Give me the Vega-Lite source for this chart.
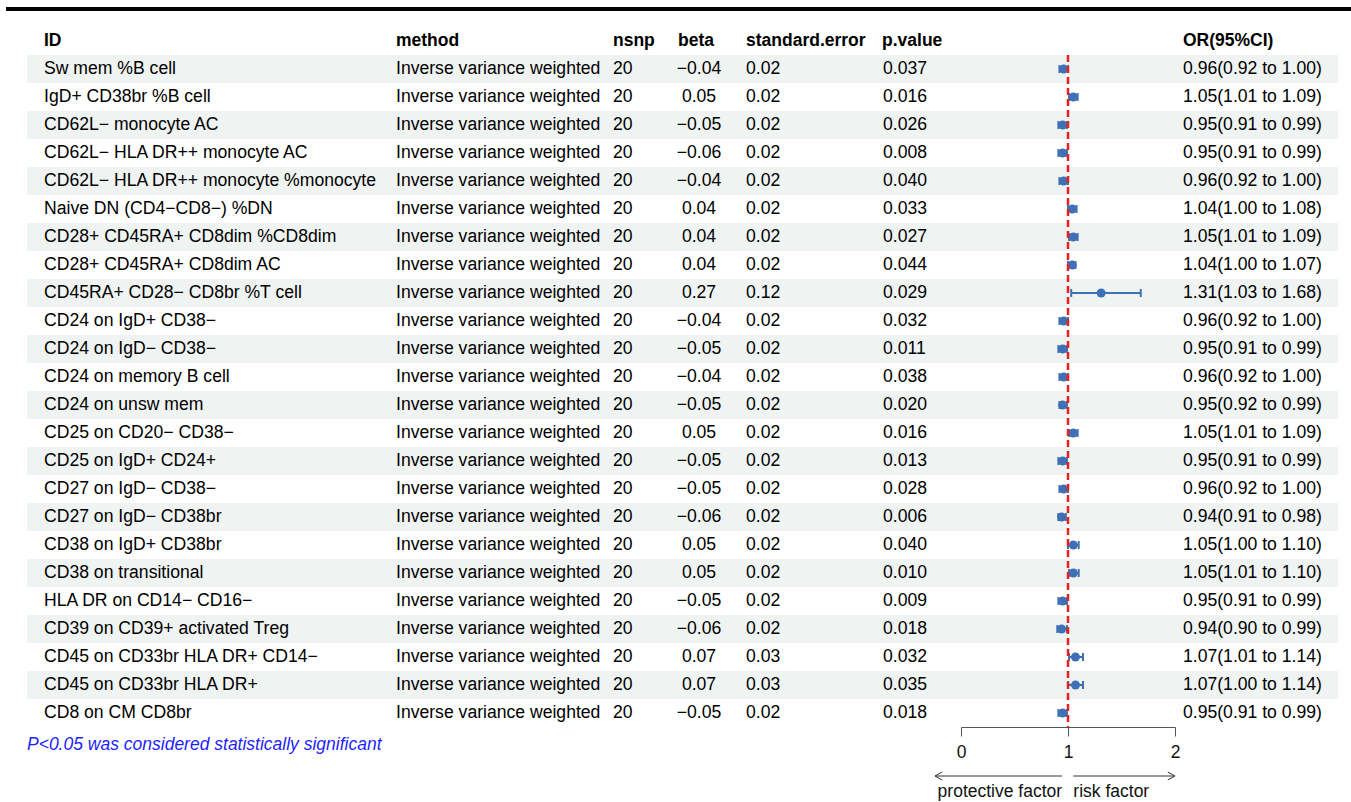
{
  "$schema": "https://vega.github.io/schema/vega-lite/v6.json",
  "background": "white",
  "padding": {"left": 6, "top": 7, "right": 0, "bottom": 0},
  "config": {
    "view": {"stroke": null},
    "font": "Liberation Sans",
    "axisX": {"grid": false, "tickCount": 2, "format": "d", "domainColor": "#555555", "tickColor": "#555555", "tickSize": 9, "labelPadding": 7, "labelFontSize": 17.5, "labelFont": "Liberation Sans", "labelColor": "#111111", "domainWidth": 1, "tickWidth": 1, "labelFlush": false, "labelOverlap": false, "labelBound": false}
  },
  "datasets": {
    "rows": [
      {"i": 1, "ID": "Sw mem %B cell", "method": "Inverse variance weighted", "nsnp": 20, "beta": -0.04, "se": 0.02, "p": 0.037, "or": 0.96, "lo": 0.92, "hi": 1.00, "ci": "0.96(0.92 to 1.00)"},
      {"i": 2, "ID": "IgD+ CD38br %B cell", "method": "Inverse variance weighted", "nsnp": 20, "beta": 0.05, "se": 0.02, "p": 0.016, "or": 1.05, "lo": 1.01, "hi": 1.09, "ci": "1.05(1.01 to 1.09)"},
      {"i": 3, "ID": "CD62L− monocyte AC", "method": "Inverse variance weighted", "nsnp": 20, "beta": -0.05, "se": 0.02, "p": 0.026, "or": 0.95, "lo": 0.91, "hi": 0.99, "ci": "0.95(0.91 to 0.99)"},
      {"i": 4, "ID": "CD62L− HLA DR++ monocyte AC", "method": "Inverse variance weighted", "nsnp": 20, "beta": -0.06, "se": 0.02, "p": 0.008, "or": 0.95, "lo": 0.91, "hi": 0.99, "ci": "0.95(0.91 to 0.99)"},
      {"i": 5, "ID": "CD62L− HLA DR++ monocyte %monocyte", "method": "Inverse variance weighted", "nsnp": 20, "beta": -0.04, "se": 0.02, "p": 0.040, "or": 0.96, "lo": 0.92, "hi": 1.00, "ci": "0.96(0.92 to 1.00)"},
      {"i": 6, "ID": "Naive DN (CD4−CD8−) %DN", "method": "Inverse variance weighted", "nsnp": 20, "beta": 0.04, "se": 0.02, "p": 0.033, "or": 1.04, "lo": 1.00, "hi": 1.08, "ci": "1.04(1.00 to 1.08)"},
      {"i": 7, "ID": "CD28+ CD45RA+ CD8dim %CD8dim", "method": "Inverse variance weighted", "nsnp": 20, "beta": 0.04, "se": 0.02, "p": 0.027, "or": 1.05, "lo": 1.01, "hi": 1.09, "ci": "1.05(1.01 to 1.09)"},
      {"i": 8, "ID": "CD28+ CD45RA+ CD8dim AC", "method": "Inverse variance weighted", "nsnp": 20, "beta": 0.04, "se": 0.02, "p": 0.044, "or": 1.04, "lo": 1.00, "hi": 1.07, "ci": "1.04(1.00 to 1.07)"},
      {"i": 9, "ID": "CD45RA+ CD28− CD8br %T cell", "method": "Inverse variance weighted", "nsnp": 20, "beta": 0.27, "se": 0.12, "p": 0.029, "or": 1.31, "lo": 1.03, "hi": 1.68, "ci": "1.31(1.03 to 1.68)"},
      {"i": 10, "ID": "CD24 on IgD+ CD38−", "method": "Inverse variance weighted", "nsnp": 20, "beta": -0.04, "se": 0.02, "p": 0.032, "or": 0.96, "lo": 0.92, "hi": 1.00, "ci": "0.96(0.92 to 1.00)"},
      {"i": 11, "ID": "CD24 on IgD− CD38−", "method": "Inverse variance weighted", "nsnp": 20, "beta": -0.05, "se": 0.02, "p": 0.011, "or": 0.95, "lo": 0.91, "hi": 0.99, "ci": "0.95(0.91 to 0.99)"},
      {"i": 12, "ID": "CD24 on memory B cell", "method": "Inverse variance weighted", "nsnp": 20, "beta": -0.04, "se": 0.02, "p": 0.038, "or": 0.96, "lo": 0.92, "hi": 1.00, "ci": "0.96(0.92 to 1.00)"},
      {"i": 13, "ID": "CD24 on unsw mem", "method": "Inverse variance weighted", "nsnp": 20, "beta": -0.05, "se": 0.02, "p": 0.020, "or": 0.95, "lo": 0.92, "hi": 0.99, "ci": "0.95(0.92 to 0.99)"},
      {"i": 14, "ID": "CD25 on CD20− CD38−", "method": "Inverse variance weighted", "nsnp": 20, "beta": 0.05, "se": 0.02, "p": 0.016, "or": 1.05, "lo": 1.01, "hi": 1.09, "ci": "1.05(1.01 to 1.09)"},
      {"i": 15, "ID": "CD25 on IgD+ CD24+", "method": "Inverse variance weighted", "nsnp": 20, "beta": -0.05, "se": 0.02, "p": 0.013, "or": 0.95, "lo": 0.91, "hi": 0.99, "ci": "0.95(0.91 to 0.99)"},
      {"i": 16, "ID": "CD27 on IgD− CD38−", "method": "Inverse variance weighted", "nsnp": 20, "beta": -0.05, "se": 0.02, "p": 0.028, "or": 0.96, "lo": 0.92, "hi": 1.00, "ci": "0.96(0.92 to 1.00)"},
      {"i": 17, "ID": "CD27 on IgD− CD38br", "method": "Inverse variance weighted", "nsnp": 20, "beta": -0.06, "se": 0.02, "p": 0.006, "or": 0.94, "lo": 0.91, "hi": 0.98, "ci": "0.94(0.91 to 0.98)"},
      {"i": 18, "ID": "CD38 on IgD+ CD38br", "method": "Inverse variance weighted", "nsnp": 20, "beta": 0.05, "se": 0.02, "p": 0.040, "or": 1.05, "lo": 1.00, "hi": 1.10, "ci": "1.05(1.00 to 1.10)"},
      {"i": 19, "ID": "CD38 on transitional", "method": "Inverse variance weighted", "nsnp": 20, "beta": 0.05, "se": 0.02, "p": 0.010, "or": 1.05, "lo": 1.01, "hi": 1.10, "ci": "1.05(1.01 to 1.10)"},
      {"i": 20, "ID": "HLA DR on CD14− CD16−", "method": "Inverse variance weighted", "nsnp": 20, "beta": -0.05, "se": 0.02, "p": 0.009, "or": 0.95, "lo": 0.91, "hi": 0.99, "ci": "0.95(0.91 to 0.99)"},
      {"i": 21, "ID": "CD39 on CD39+ activated Treg", "method": "Inverse variance weighted", "nsnp": 20, "beta": -0.06, "se": 0.02, "p": 0.018, "or": 0.94, "lo": 0.90, "hi": 0.99, "ci": "0.94(0.90 to 0.99)"},
      {"i": 22, "ID": "CD45 on CD33br HLA DR+ CD14−", "method": "Inverse variance weighted", "nsnp": 20, "beta": 0.07, "se": 0.03, "p": 0.032, "or": 1.07, "lo": 1.01, "hi": 1.14, "ci": "1.07(1.01 to 1.14)"},
      {"i": 23, "ID": "CD45 on CD33br HLA DR+", "method": "Inverse variance weighted", "nsnp": 20, "beta": 0.07, "se": 0.03, "p": 0.035, "or": 1.07, "lo": 1.00, "hi": 1.14, "ci": "1.07(1.00 to 1.14)"},
      {"i": 24, "ID": "CD8 on CM CD8br", "method": "Inverse variance weighted", "nsnp": 20, "beta": -0.05, "se": 0.02, "p": 0.018, "or": 0.95, "lo": 0.91, "hi": 0.99, "ci": "0.95(0.91 to 0.99)"}
    ]
  },
  "spacing": 16,
  "vconcat": [
    {
      "width": 1345, "height": 4,
      "data": {"values": [{}]},
      "mark": {"type": "rect", "color": "#000000"},
      "encoding": {}
    },
    {
      "spacing": 8,
      "vconcat": [
        {
          "bounds": "flush",
          "spacing": 0,
          "hconcat": [
            {
              "width": 21, "height": 700,
              "data": {"values": []},
              "mark": "text",
              "encoding": {}
            },
            {
              "width": 369, "height": 700,
              "data": {"name": "rows"},
              "title": {"text": "P<0.05 was considered statistically significant", "orient": "bottom", "anchor": "start", "offset": 9, "color": "#1f1fff", "fontStyle": "italic", "fontWeight": "normal", "fontSize": 17.5, "font": "Liberation Sans"},
              "layer": [
                {"transform": [{"filter": "datum.i % 2 == 1"}], "mark": {"type": "rect", "color": "#eff3f2"},
                 "encoding": {"y": {"field": "i", "type": "ordinal", "scale": {"type": "band", "domain": [0,1,2,3,4,5,6,7,8,9,10,11,12,13,14,15,16,17,18,19,20,21,22,23,24], "paddingInner": 0, "paddingOuter": 0}, "axis": null}}},
                {"mark": {"type": "text", "align": "left", "baseline": "middle", "fontSize": 17.6, "color": "#000000", "dx": 17},
                 "encoding": {"x": {"value": 0}, "y": {"field": "i", "type": "ordinal", "scale": {"type": "band", "domain": [0,1,2,3,4,5,6,7,8,9,10,11,12,13,14,15,16,17,18,19,20,21,22,23,24], "paddingInner": 0, "paddingOuter": 0}, "axis": null}, "text": {"field": "ID"}}},
                {"data": {"values": [{}]}, "mark": {"type": "text", "align": "left", "baseline": "middle", "fontSize": 17.5, "fontWeight": "bold", "color": "#000000", "dx": 17},
                 "encoding": {"x": {"value": 0}, "y": {"datum": 0, "type": "ordinal", "scale": {"type": "band", "domain": [0,1,2,3,4,5,6,7,8,9,10,11,12,13,14,15,16,17,18,19,20,21,22,23,24], "paddingInner": 0, "paddingOuter": 0}, "axis": null}, "text": {"value": "ID"}}}
              ]
            },
            {
              "width": 217, "height": 700,
              "data": {"name": "rows"},
              "layer": [
                {"transform": [{"filter": "datum.i % 2 == 1"}], "mark": {"type": "rect", "color": "#eff3f2"},
                 "encoding": {"y": {"field": "i", "type": "ordinal", "scale": {"type": "band", "domain": [0,1,2,3,4,5,6,7,8,9,10,11,12,13,14,15,16,17,18,19,20,21,22,23,24], "paddingInner": 0, "paddingOuter": 0}, "axis": null}}},
                {"mark": {"type": "text", "align": "left", "baseline": "middle", "fontSize": 17.6, "color": "#000000"},
                 "encoding": {"x": {"value": 0}, "y": {"field": "i", "type": "ordinal", "scale": {"type": "band", "domain": [0,1,2,3,4,5,6,7,8,9,10,11,12,13,14,15,16,17,18,19,20,21,22,23,24], "paddingInner": 0, "paddingOuter": 0}, "axis": null}, "text": {"field": "method"}}},
                {"data": {"values": [{}]}, "mark": {"type": "text", "align": "left", "baseline": "middle", "fontSize": 17.5, "fontWeight": "bold", "color": "#000000"},
                 "encoding": {"x": {"value": 0}, "y": {"datum": 0, "type": "ordinal", "scale": {"type": "band", "domain": [0,1,2,3,4,5,6,7,8,9,10,11,12,13,14,15,16,17,18,19,20,21,22,23,24], "paddingInner": 0, "paddingOuter": 0}, "axis": null}, "text": {"value": "method"}}}
              ]
            },
            {
              "width": 65, "height": 700,
              "data": {"name": "rows"},
              "layer": [
                {"transform": [{"filter": "datum.i % 2 == 1"}], "mark": {"type": "rect", "color": "#eff3f2"},
                 "encoding": {"y": {"field": "i", "type": "ordinal", "scale": {"type": "band", "domain": [0,1,2,3,4,5,6,7,8,9,10,11,12,13,14,15,16,17,18,19,20,21,22,23,24], "paddingInner": 0, "paddingOuter": 0}, "axis": null}}},
                {"mark": {"type": "text", "align": "left", "baseline": "middle", "fontSize": 17.6, "color": "#000000"},
                 "encoding": {"x": {"value": 0}, "y": {"field": "i", "type": "ordinal", "scale": {"type": "band", "domain": [0,1,2,3,4,5,6,7,8,9,10,11,12,13,14,15,16,17,18,19,20,21,22,23,24], "paddingInner": 0, "paddingOuter": 0}, "axis": null}, "text": {"field": "nsnp", "type": "quantitative", "format": "d"}}},
                {"data": {"values": [{}]}, "mark": {"type": "text", "align": "left", "baseline": "middle", "fontSize": 17.5, "fontWeight": "bold", "color": "#000000"},
                 "encoding": {"x": {"value": 0}, "y": {"datum": 0, "type": "ordinal", "scale": {"type": "band", "domain": [0,1,2,3,4,5,6,7,8,9,10,11,12,13,14,15,16,17,18,19,20,21,22,23,24], "paddingInner": 0, "paddingOuter": 0}, "axis": null}, "text": {"value": "nsnp"}}}
              ]
            },
            {
              "width": 68, "height": 700,
              "data": {"name": "rows"},
              "layer": [
                {"transform": [{"filter": "datum.i % 2 == 1"}], "mark": {"type": "rect", "color": "#eff3f2"},
                 "encoding": {"y": {"field": "i", "type": "ordinal", "scale": {"type": "band", "domain": [0,1,2,3,4,5,6,7,8,9,10,11,12,13,14,15,16,17,18,19,20,21,22,23,24], "paddingInner": 0, "paddingOuter": 0}, "axis": null}}},
                {"mark": {"type": "text", "align": "center", "baseline": "middle", "fontSize": 17.6, "color": "#000000", "dx": 21},
                 "encoding": {"x": {"value": 0}, "y": {"field": "i", "type": "ordinal", "scale": {"type": "band", "domain": [0,1,2,3,4,5,6,7,8,9,10,11,12,13,14,15,16,17,18,19,20,21,22,23,24], "paddingInner": 0, "paddingOuter": 0}, "axis": null}, "text": {"field": "beta", "type": "quantitative", "format": ".2f"}}},
                {"data": {"values": [{}]}, "mark": {"type": "text", "align": "left", "baseline": "middle", "fontSize": 17.5, "fontWeight": "bold", "color": "#000000"},
                 "encoding": {"x": {"value": 0}, "y": {"datum": 0, "type": "ordinal", "scale": {"type": "band", "domain": [0,1,2,3,4,5,6,7,8,9,10,11,12,13,14,15,16,17,18,19,20,21,22,23,24], "paddingInner": 0, "paddingOuter": 0}, "axis": null}, "text": {"value": "beta"}}}
              ]
            },
            {
              "width": 136, "height": 700,
              "data": {"name": "rows"},
              "layer": [
                {"transform": [{"filter": "datum.i % 2 == 1"}], "mark": {"type": "rect", "color": "#eff3f2"},
                 "encoding": {"y": {"field": "i", "type": "ordinal", "scale": {"type": "band", "domain": [0,1,2,3,4,5,6,7,8,9,10,11,12,13,14,15,16,17,18,19,20,21,22,23,24], "paddingInner": 0, "paddingOuter": 0}, "axis": null}}},
                {"mark": {"type": "text", "align": "left", "baseline": "middle", "fontSize": 17.6, "color": "#000000"},
                 "encoding": {"x": {"value": 0}, "y": {"field": "i", "type": "ordinal", "scale": {"type": "band", "domain": [0,1,2,3,4,5,6,7,8,9,10,11,12,13,14,15,16,17,18,19,20,21,22,23,24], "paddingInner": 0, "paddingOuter": 0}, "axis": null}, "text": {"field": "se", "type": "quantitative", "format": ".2f"}}},
                {"data": {"values": [{}]}, "mark": {"type": "text", "align": "left", "baseline": "middle", "fontSize": 17.5, "fontWeight": "bold", "color": "#000000"},
                 "encoding": {"x": {"value": 0}, "y": {"datum": 0, "type": "ordinal", "scale": {"type": "band", "domain": [0,1,2,3,4,5,6,7,8,9,10,11,12,13,14,15,16,17,18,19,20,21,22,23,24], "paddingInner": 0, "paddingOuter": 0}, "axis": null}, "text": {"value": "standard.error"}}}
              ]
            },
            {
              "width": 79, "height": 700,
              "data": {"name": "rows"},
              "layer": [
                {"transform": [{"filter": "datum.i % 2 == 1"}], "mark": {"type": "rect", "color": "#eff3f2"},
                 "encoding": {"y": {"field": "i", "type": "ordinal", "scale": {"type": "band", "domain": [0,1,2,3,4,5,6,7,8,9,10,11,12,13,14,15,16,17,18,19,20,21,22,23,24], "paddingInner": 0, "paddingOuter": 0}, "axis": null}}},
                {"mark": {"type": "text", "align": "left", "baseline": "middle", "fontSize": 17.6, "color": "#000000", "dx": 1},
                 "encoding": {"x": {"value": 0}, "y": {"field": "i", "type": "ordinal", "scale": {"type": "band", "domain": [0,1,2,3,4,5,6,7,8,9,10,11,12,13,14,15,16,17,18,19,20,21,22,23,24], "paddingInner": 0, "paddingOuter": 0}, "axis": null}, "text": {"field": "p", "type": "quantitative", "format": ".3f"}}},
                {"data": {"values": [{}]}, "mark": {"type": "text", "align": "left", "baseline": "middle", "fontSize": 17.5, "fontWeight": "bold", "color": "#000000"},
                 "encoding": {"x": {"value": 0}, "y": {"datum": 0, "type": "ordinal", "scale": {"type": "band", "domain": [0,1,2,3,4,5,6,7,8,9,10,11,12,13,14,15,16,17,18,19,20,21,22,23,24], "paddingInner": 0, "paddingOuter": 0}, "axis": null}, "text": {"value": "p.value"}}}
              ]
            },
            {
              "width": 214, "height": 700,
              "data": {"name": "rows"},
              "layer": [
                {"transform": [{"filter": "datum.i % 2 == 1"}], "mark": {"type": "rect", "color": "#eff3f2"},
                 "encoding": {"x": {"datum": 0, "type": "quantitative", "scale": {"domain": [0, 2]}, "title": null}, "x2": {"datum": 2},
                   "y": {"field": "i", "type": "ordinal", "scale": {"type": "band", "domain": [0,1,2,3,4,5,6,7,8,9,10,11,12,13,14,15,16,17,18,19,20,21,22,23,24], "paddingInner": 0, "paddingOuter": 0}, "axis": null}}},
                {"mark": {"type": "rule", "color": "#3f6fb5", "strokeWidth": 2.2},
                 "encoding": {"x": {"field": "lo", "type": "quantitative", "scale": {"domain": [0, 2]}, "title": null}, "x2": {"field": "hi"},
                   "y": {"field": "i", "type": "ordinal", "scale": {"type": "band", "domain": [0,1,2,3,4,5,6,7,8,9,10,11,12,13,14,15,16,17,18,19,20,21,22,23,24], "paddingInner": 0, "paddingOuter": 0}, "axis": null}}},
                {"mark": {"type": "tick", "orient": "vertical", "size": 8, "thickness": 2, "color": "#3f6fb5", "opacity": 1},
                 "encoding": {"x": {"field": "lo", "type": "quantitative", "scale": {"domain": [0, 2]}, "title": null},
                   "y": {"field": "i", "type": "ordinal", "scale": {"type": "band", "domain": [0,1,2,3,4,5,6,7,8,9,10,11,12,13,14,15,16,17,18,19,20,21,22,23,24], "paddingInner": 0, "paddingOuter": 0}, "axis": null}}},
                {"mark": {"type": "tick", "orient": "vertical", "size": 8, "thickness": 2, "color": "#3f6fb5", "opacity": 1},
                 "encoding": {"x": {"field": "hi", "type": "quantitative", "scale": {"domain": [0, 2]}, "title": null},
                   "y": {"field": "i", "type": "ordinal", "scale": {"type": "band", "domain": [0,1,2,3,4,5,6,7,8,9,10,11,12,13,14,15,16,17,18,19,20,21,22,23,24], "paddingInner": 0, "paddingOuter": 0}, "axis": null}}},
                {"mark": {"type": "point", "shape": "circle", "filled": true, "size": 80, "color": "#3f6fb5", "opacity": 1},
                 "encoding": {"x": {"field": "or", "type": "quantitative", "scale": {"domain": [0, 2]}, "title": null},
                   "y": {"field": "i", "type": "ordinal", "scale": {"type": "band", "domain": [0,1,2,3,4,5,6,7,8,9,10,11,12,13,14,15,16,17,18,19,20,21,22,23,24], "paddingInner": 0, "paddingOuter": 0}, "axis": null}}},
                {"data": {"values": [{}]}, "mark": {"type": "rule", "color": "#e8201e", "strokeWidth": 2.5, "strokeDash": [7, 4]},
                 "encoding": {"x": {"datum": 1, "type": "quantitative", "scale": {"domain": [0, 2]}, "title": null},
                   "y": {"datum": 1, "type": "ordinal", "bandPosition": 0, "scale": {"type": "band", "domain": [0,1,2,3,4,5,6,7,8,9,10,11,12,13,14,15,16,17,18,19,20,21,22,23,24], "paddingInner": 0, "paddingOuter": 0}, "axis": null},
                   "y2": {"datum": 24, "bandPosition": 1}}}
              ]
            },
            {
              "width": 163, "height": 700,
              "data": {"name": "rows"},
              "layer": [
                {"transform": [{"filter": "datum.i % 2 == 1"}], "mark": {"type": "rect", "color": "#eff3f2"},
                 "encoding": {"y": {"field": "i", "type": "ordinal", "scale": {"type": "band", "domain": [0,1,2,3,4,5,6,7,8,9,10,11,12,13,14,15,16,17,18,19,20,21,22,23,24], "paddingInner": 0, "paddingOuter": 0}, "axis": null}}},
                {"mark": {"type": "text", "align": "left", "baseline": "middle", "fontSize": 17.6, "color": "#000000", "dx": 8},
                 "encoding": {"x": {"value": 0}, "y": {"field": "i", "type": "ordinal", "scale": {"type": "band", "domain": [0,1,2,3,4,5,6,7,8,9,10,11,12,13,14,15,16,17,18,19,20,21,22,23,24], "paddingInner": 0, "paddingOuter": 0}, "axis": null}, "text": {"field": "ci"}}},
                {"data": {"values": [{}]}, "mark": {"type": "text", "align": "left", "baseline": "middle", "fontSize": 17.5, "fontWeight": "bold", "color": "#000000", "dx": 8},
                 "encoding": {"x": {"value": 0}, "y": {"datum": 0, "type": "ordinal", "scale": {"type": "band", "domain": [0,1,2,3,4,5,6,7,8,9,10,11,12,13,14,15,16,17,18,19,20,21,22,23,24], "paddingInner": 0, "paddingOuter": 0}, "axis": null}, "text": {"value": "OR(95%CI)"}}}
              ]
            }
          ]
        },
        {
          "bounds": "flush",
          "spacing": 0,
          "hconcat": [
            {
              "width": 919, "height": 14,
              "data": {"values": []},
              "mark": "text",
              "encoding": {}
            },
            {
              "width": 260, "height": 14,
              "data": {"values": [
                {"dir": "left", "label": "protective factor", "from": 0.945, "to": -0.243},
                {"dir": "right", "label": "risk factor", "from": 1.05, "to": 2.0}
              ]},
              "layer": [
                {"mark": {"type": "rule", "color": "#333333", "strokeWidth": 1},
                 "encoding": {"x": {"field": "from", "type": "quantitative", "scale": {"domain": [-0.33645, 2.09346]}, "axis": null}, "x2": {"field": "to"}}},
                {"mark": {"type": "point", "filled": false, "size": 256, "strokeWidth": 1, "color": "#333333", "opacity": 1},
                 "encoding": {"x": {"field": "to", "type": "quantitative", "scale": {"domain": [-0.33645, 2.09346]}, "axis": null},
                   "shape": {"field": "dir", "type": "nominal", "scale": {"domain": ["left", "right"], "range": ["M0.9,-0.5L0,0L0.9,0.5", "M-0.9,-0.5L0,0L-0.9,0.5"]}, "legend": null}}},
                {"transform": [{"filter": "datum.dir == 'left'"}],
                 "mark": {"type": "text", "align": "right", "baseline": "middle", "dy": 16, "fontSize": 17.5, "color": "#111111"},
                 "encoding": {"x": {"field": "from", "type": "quantitative", "scale": {"domain": [-0.33645, 2.09346]}, "axis": null}, "text": {"field": "label"}}},
                {"transform": [{"filter": "datum.dir == 'right'"}],
                 "mark": {"type": "text", "align": "left", "baseline": "middle", "dy": 16, "fontSize": 17.5, "color": "#111111"},
                 "encoding": {"x": {"field": "from", "type": "quantitative", "scale": {"domain": [-0.33645, 2.09346]}, "axis": null}, "text": {"field": "label"}}}
              ]
            }
          ]
        }
      ]
    }
  ]
}
